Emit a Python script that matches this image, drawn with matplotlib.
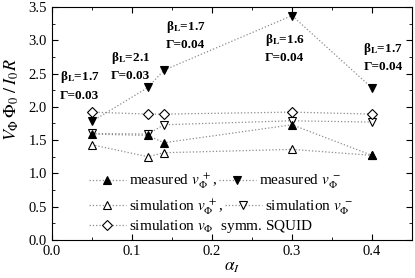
#!/usr/bin/env python3
# plot.py

import matplotlib
matplotlib.use("Agg")
import matplotlib.pyplot as plt
from matplotlib.ticker import MultipleLocator
from matplotlib.legend import Legend

plt.rcParams["font.family"] = ["Liberation Serif", "DejaVu Serif"]
plt.rcParams["mathtext.fontset"] = "stix"
plt.rcParams["font.size"] = 9.5

alpha = [0.05, 0.12, 0.14, 0.30, 0.40]
meas_plus = [1.59, 1.57, 1.46, 1.73, 1.27]
meas_minus = [1.78, 2.29, 2.55, 3.37, 2.28]
sim_plus = [1.43, 1.25, 1.31, 1.36, 1.27]
sim_minus = [1.60, 1.59, 1.73, 1.79, 1.77]
sim_symm = [1.92, 1.89, 1.89, 1.92, 1.89]

labels_beta = ["1.7", "2.1", "1.7", "1.6", "1.7"]
labels_gamma = ["0.03", "0.03", "0.04", "0.04", "0.04"]
label_pos = [(0.010, 2.32), (0.074, 2.61), (0.1425, 3.08), (0.266, 2.88), (0.389, 2.75)]


def main():
    fig = plt.figure(figsize=(4.15, 2.78), dpi=100)
    ax = fig.add_axes([0.125, 0.137, 0.868, 0.838])

    line_kw = dict(color="0.55", linestyle=":", linewidth=0.9, markersize=6,
                   markeredgecolor="black", markeredgewidth=0.8)

    h_sp, = ax.plot(alpha, sim_plus, marker="^", markerfacecolor="white", **line_kw)
    h_sm, = ax.plot(alpha, sim_minus, marker="v", markerfacecolor="white", **line_kw)
    h_sy, = ax.plot(alpha, sim_symm, marker="D", markersize=5, markerfacecolor="white",
                    **{k: v for k, v in line_kw.items() if k != "markersize"})
    h_mp, = ax.plot(alpha, meas_plus, marker="^", markerfacecolor="black", **line_kw)
    h_mm, = ax.plot(alpha, meas_minus, marker="v", markerfacecolor="black", **line_kw)

    for (x, y), b, g in zip(label_pos, labels_beta, labels_gamma):
        ax.text(x, y, "β$_\\mathbf{L}$=" + b + "\nΓ=" + g, fontweight="bold",
                fontsize=9.5, ha="left", va="center", linespacing=1.45)

    ax.set_xlim(0, 0.45)
    ax.set_ylim(0, 3.5)
    ax.xaxis.set_major_locator(MultipleLocator(0.1))
    ax.xaxis.set_minor_locator(MultipleLocator(0.05))
    ax.yaxis.set_major_locator(MultipleLocator(0.5))
    ax.yaxis.set_minor_locator(MultipleLocator(0.25))
    ax.tick_params(which="both", direction="in", top=True, right=True, labelsize=10.5)
    ax.tick_params(which="major", length=4)
    ax.tick_params(which="minor", length=2.5)
    ax.xaxis.set_major_formatter(plt.FuncFormatter(lambda v, p: f"{v:.1f}"))
    ax.yaxis.set_major_formatter(plt.FuncFormatter(lambda v, p: f"{v:.1f}"))

    ax.set_xlabel(r"$\alpha_I$", fontsize=12.5, labelpad=1)
    ax.set_ylabel(r"$V_\Phi\,\Phi_0\;/\;I_0R$", fontsize=13)
    ax.yaxis.set_label_coords(-0.085, 0.6)

    # each legend row is laid out on its own, like in the original figure
    rows = [
        ([h_mp, h_mm], [r"measured $v_\Phi^{\;+}$,", r"measured $v_\Phi^{\;-}$"], 0.250),
        ([h_sp, h_sm], [r"simulation $v_\Phi^{\;+}$,", r"simulation $v_\Phi^{\;-}$"], 0.140),
        ([h_sy], [r"simulation $v_\Phi$  symm. SQUID"], 0.058),
    ]
    for handles, labels, ypos in rows:
        leg = Legend(ax, handles, labels, ncol=2, frameon=False, loc="center left",
                     bbox_to_anchor=(0.103, ypos), handlelength=2.4,
                     handletextpad=0.2, columnspacing=0.15,
                     borderaxespad=0, borderpad=0, fontsize=11)
        ax.add_artist(leg)

    fig.savefig("out.png", dpi=100)


if __name__ == "__main__":
    main()
